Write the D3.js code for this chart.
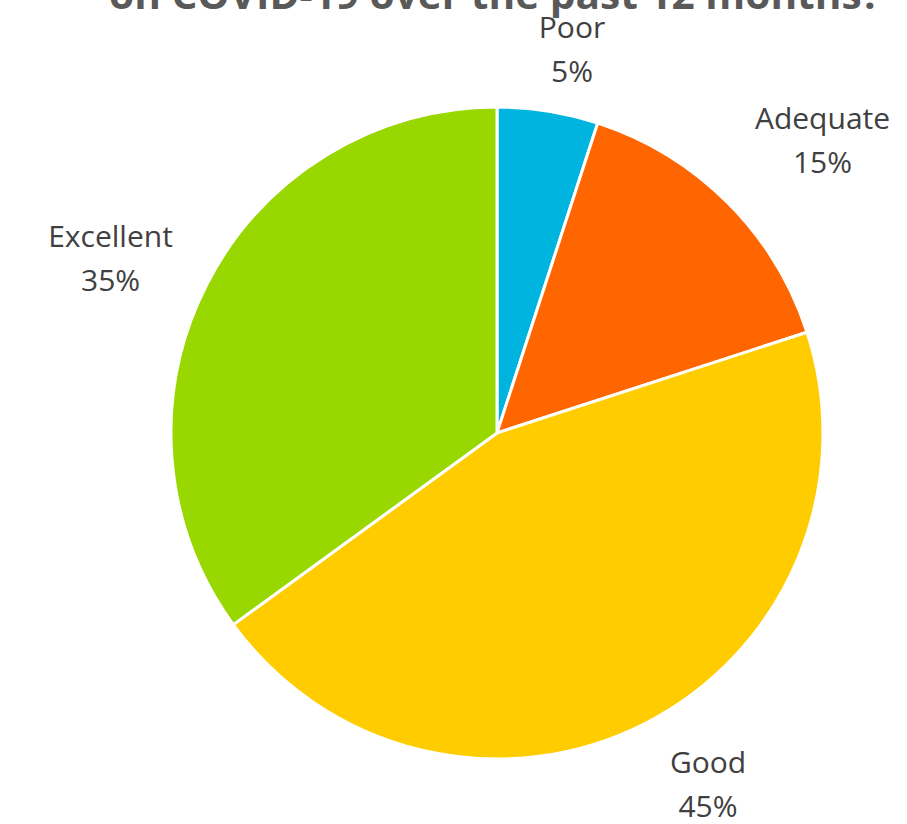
<!DOCTYPE html>
<html>
<head>
<meta charset="utf-8">
<style>
  body { margin: 0; background: #fff; }
  text { font-family: "Open Sans", "DejaVu Sans", sans-serif; }
</style>
</head>
<body>
<script src="https://d3js.org/d3.v7.min.js"></script>
<script>
var categories = ['Poor', 'Adequate', 'Good', 'Excellent'];
var values = [5, 15, 45, 35];
var pctLabels = ['5%', '15%', '45%', '35%'];
var colors = ['#00B4E0', '#FF6600', '#FFCC00', '#99D700'];
var titleLine = 'on COVID-19 over the past 12 months?';

var width = 907, height = 824;
var cx = 497, cy = 433, radius = 326;

var svg = d3.select('body').append('svg')
    .attr('width', width)
    .attr('height', height);

// title (top line sits above the visible area)
svg.append('text')
    .attr('x', 495)
    .attr('y', 9)
    .attr('text-anchor', 'middle')
    .attr('font-size', 40)
    .attr('font-weight', 'bold')
    .attr('fill', '#595959')
    .attr('textLength', 772)
    .attr('lengthAdjust', 'spacingAndGlyphs')
    .text(titleLine);

var data = categories.map(function(c, i) {
    return { name: c, value: values[i], pct: pctLabels[i], color: colors[i] };
});

var pie = d3.pie().sort(null).value(function(d) { return d.value; });
var arc = d3.arc().innerRadius(0).outerRadius(radius);
var edge = d3.arc().innerRadius(radius).outerRadius(radius);

var g = svg.append('g').attr('transform', 'translate(' + cx + ',' + cy + ')');

var arcs = pie(data);

g.selectAll('path')
    .data(arcs)
    .enter().append('path')
    .attr('d', arc)
    .attr('fill', function(d) { return d.data.color; })
    .attr('stroke', '#fff')
    .attr('stroke-width', 3)
    .attr('stroke-linejoin', 'round');

// nudges from the slice's outer edge to the label centre (best-fit placement)
var nudge = {
    Poor: [24, -61],
    Adequate: [95, -61],
    Good: [63, 62],
    Excellent: [-96, -26]
};

var labels = g.selectAll('g.lbl')
    .data(arcs)
    .enter().append('g')
    .attr('class', 'lbl')
    .attr('transform', function(d) {
        var p = edge.centroid(d);
        var n = nudge[d.data.name];
        return 'translate(' + (p[0] + n[0]) + ',' + (p[1] + n[1]) + ')';
    });

labels.append('text')
    .attr('text-anchor', 'middle')
    .attr('y', -12)
    .attr('font-size', 30)
    .attr('fill', '#404040')
    .text(function(d) { return d.data.name; });

labels.append('text')
    .attr('text-anchor', 'middle')
    .attr('y', 32)
    .attr('font-size', 30)
    .attr('fill', '#404040')
    .text(function(d) { return d.data.pct; });
</script>
</body>
</html>
